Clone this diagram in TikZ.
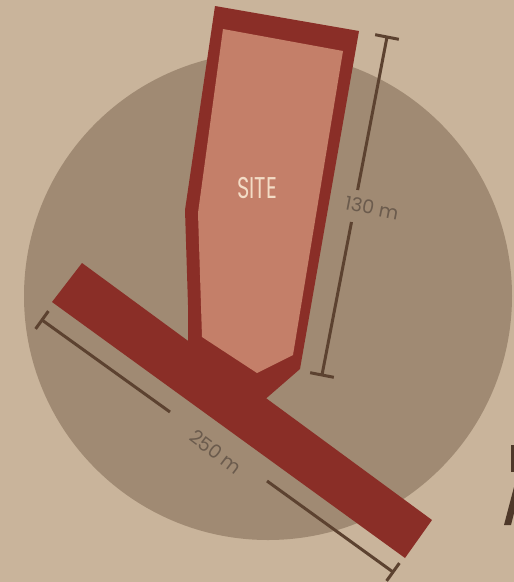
\documentclass[tikz,border=0pt]{standalone}
\usepackage{fontspec}
\setmainfont{Poppins}
\definecolor{bgbeige}{HTML}{C9B49B}
\definecolor{circgrey}{HTML}{A08A73}
\definecolor{roadred}{HTML}{8A2E27}
\definecolor{salmon}{HTML}{C47F69}
\definecolor{cream}{HTML}{F3DCC6}
\definecolor{dimbrown}{HTML}{5C4230}
\definecolor{lblgrey}{HTML}{6B5B4D}
\begin{document}
\begin{tikzpicture}[x=1pt,y=-1pt,
  dimline/.style={draw=dimbrown,line width=3pt},
  lbl/.style={text=lblgrey,font=\fontsize{19}{19}\selectfont,inner sep=0pt},
  sitelbl/.style={text=cream,inner sep=0pt}]
\fill[bgbeige] (0,0) rectangle (514,582);
\useasboundingbox (0,0) rectangle (514,582);
% surrounding circle
\fill[circgrey] (268,296) circle[radius=244pt];
% road
\fill[roadred] (82,263) -- (432,520) -- (405,558) -- (52,302) -- cycle;
% site outline
\fill[roadred] (215,6) -- (359,31) -- (300,369) -- (262,402) -- (188,352) -- (188,305) -- (185,210) -- cycle;
% site interior
\fill[salmon] (223,29) -- (343,51) -- (293,355) -- (257,373) -- (202,337) -- (198,213) -- cycle;
\node[sitelbl] (site) at (257,188) {\scalebox{0.7}[1]{\fontsize{30}{30}\selectfont SITE}};
% 130 m dimension
\coordinate (a1) at (387,37);
\coordinate (a2) at (357.6,190);
\coordinate (a3) at (351.5,222);
\coordinate (a4) at (322,375);
\coordinate (a1l) at (375.2,34.7);
\coordinate (a1r) at (398.8,39.3);
\coordinate (a4l) at (310.2,372.7);
\coordinate (a4r) at (333.8,377.3);
\draw[dimline] (a1) -- (a2);
\draw[dimline] (a3) -- (a4);
\draw[dimline] (a1l) -- (a1r);
\draw[dimline] (a4l) -- (a4r);
\node[lbl,rotate=-11] (l130) at (372,208) {130 m};
% 250 m dimension
\coordinate (b1) at (42,320);
\coordinate (b2) at (170,412);
\coordinate (b3) at (267,481);
\coordinate (b4) at (393,572);
\coordinate (b1l) at (48.4,311.1);
\coordinate (b1r) at (35.6,328.9);
\coordinate (b4l) at (399.4,563.1);
\coordinate (b4r) at (386.6,580.9);
\draw[dimline] (b1) -- (b2);
\draw[dimline] (b3) -- (b4);
\draw[dimline] (b1l) -- (b1r);
\draw[dimline] (b4l) -- (b4r);
\node[lbl,rotate=-37] (l250) at (216,452) {250 m};
% cut-off letters at the right edge
\fill[dimbrown!85!black] (510.5,445) rectangle (514,472);
\fill[dimbrown!85!black] (514,487) -- (504,525) -- (511,525) -- (514,513) -- cycle;
\end{tikzpicture}
\end{document}
